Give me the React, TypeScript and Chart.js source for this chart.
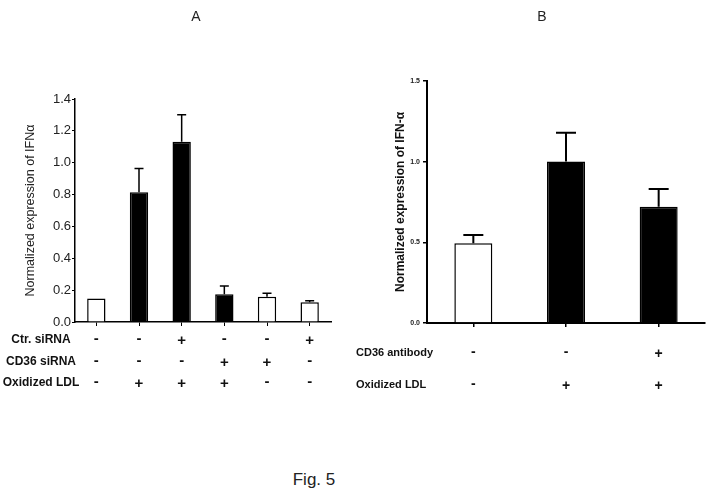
import React, { useEffect, useRef } from 'react';
import { Chart, registerables } from 'chart.js';

Chart.register(...registerables);

const FONT = '"Liberation Sans", Arial, sans-serif';

// ---- Panel A ----
const groupsA = ['1', '2', '3', '4', '5', '6'];
const valuesA = [0.147, 0.814, 1.131, 0.174, 0.159, 0.124];
const errorsA = [0, 0.149, 0.17, 0.052, 0.021, 0.01];
const fillsA = ['#ffffff', '#000000', '#000000', '#000000', '#ffffff', '#ffffff'];
const ticksA = [0, 0.2, 0.4, 0.6, 0.8, 1.0, 1.2, 1.4];
const rowLabelsA = ['Ctr. siRNA', 'CD36 siRNA', 'Oxidized LDL'];
const ctrSiRNA = ['-', '-', '+', '-', '-', '+'];
const cd36SiRNA = ['-', '-', '-', '+', '+', '-'];
const oxLdlA = ['-', '+', '+', '+', '-', '-'];

// ---- Panel B ----
const groupsB = ['1', '2', '3'];
const valuesB = [0.495, 1.001, 0.721];
const errorsB = [0.051, 0.178, 0.109];
const fillsB = ['#ffffff', '#000000', '#000000'];
const ticksB = [0, 0.5, 1.0, 1.5];
const rowLabelsB = ['CD36 antibody', 'Oxidized LDL'];
const cd36Antibody = ['-', '-', '+'];
const oxLdlB = ['-', '+', '+'];

function errorBarPlugin(id: string, values: number[], errors: number[], capW: number, lw: number) {
  return {
    id,
    afterDatasetsDraw(chart: any) {
      const { ctx, scales } = chart;
      const xs = scales.x;
      const ys = scales.y;
      ctx.save();
      ctx.strokeStyle = '#000';
      ctx.lineWidth = lw;
      values.forEach((v, i) => {
        const e = errors[i];
        if (!e) return;
        const x = xs.getPixelForValue(i);
        const y0 = ys.getPixelForValue(v);
        const y1 = ys.getPixelForValue(v + e);
        ctx.beginPath();
        ctx.moveTo(x, y0);
        ctx.lineTo(x, y1);
        ctx.moveTo(x - capW / 2, y1);
        ctx.lineTo(x + capW / 2, y1);
        ctx.stroke();
      });
      ctx.restore();
    },
  };
}

function tablePlugin(
  id: string,
  labels: string[],
  rows: string[][],
  rowY: number[],
  labelX: number,
  labelAlign: CanvasTextAlign,
  labelSize: number,
  symSize: number
) {
  return {
    id,
    afterDraw(chart: any) {
      const { ctx, scales } = chart;
      const xs = scales.x;
      ctx.save();
      ctx.fillStyle = '#111';
      ctx.textBaseline = 'middle';
      labels.forEach((lab, r) => {
        ctx.font = `bold ${labelSize}px ${FONT}`;
        ctx.textAlign = labelAlign;
        ctx.fillText(lab, labelX, rowY[r]);
        ctx.font = `900 ${symSize}px ${FONT}`;
        ctx.textAlign = 'center';
        rows[r].forEach((s, i) => {
          ctx.fillText(s, xs.getPixelForValue(i), s === '-' ? rowY[r] - 1 : rowY[r] + 1);
        });
      });
      ctx.restore();
    },
  };
}

function configA(): any {
  return {
    type: 'bar',
    data: {
      labels: groupsA,
      datasets: [
        {
          data: valuesA,
          backgroundColor: fillsA,
          borderColor: '#000',
          borderWidth: 1.5,
          barPercentage: 0.43,
          categoryPercentage: 1,
        },
      ],
    },
    options: {
      animation: false,
      responsive: false,
      devicePixelRatio: 1,
      layout: { padding: { top: 99, right: 9, bottom: 0, left: 0 } },
      plugins: { legend: { display: false }, tooltip: { enabled: false }, title: { display: false } },
      scales: {
        x: {
          grid: { display: true, drawOnChartArea: false, drawTicks: true, tickLength: 4, offset: false, color: '#000', lineWidth: 1 },
          border: { display: true, color: '#000', width: 1.5 },
          ticks: { callback: () => '', padding: 0 },
          afterFit: (s: any) => {
            s.height = 98;
          },
        },
        y: {
          min: 0,
          max: 1.4,
          afterBuildTicks: (s: any) => {
            s.ticks = ticksA.map((v) => ({ value: v }));
          },
          ticks: { callback: (v: any) => Number(v).toFixed(1), font: { family: FONT, size: 13 }, color: '#222', padding: 1 },
          grid: { drawOnChartArea: false, tickLength: 3, color: '#000', lineWidth: 1 },
          border: { display: true, color: '#000', width: 1.5 },
          title: {
            display: true,
            text: 'Normalized expression of IFNα',
            font: { family: FONT, size: 12.5 },
            color: '#222',
            padding: { top: 23, bottom: 0 },
          },
          afterFit: (s: any) => {
            s.width = 75;
          },
        },
      },
    },
    plugins: [
      errorBarPlugin('errA', valuesA, errorsA, 9, 1.5),
      tablePlugin('tabA', rowLabelsA, [ctrSiRNA, cd36SiRNA, oxLdlA], [340, 362, 383], 41, 'center', 12, 15),
    ],
  };
}

function configB(): any {
  return {
    type: 'bar',
    data: {
      labels: groupsB,
      datasets: [
        {
          data: valuesB,
          backgroundColor: fillsB,
          borderColor: '#000',
          borderWidth: 1.5,
          barPercentage: 0.41,
          categoryPercentage: 1,
        },
      ],
    },
    options: {
      animation: false,
      responsive: false,
      devicePixelRatio: 1,
      layout: { padding: { top: 81, right: 8, bottom: 0, left: 0 } },
      plugins: { legend: { display: false }, tooltip: { enabled: false }, title: { display: false } },
      scales: {
        x: {
          grid: { display: true, drawOnChartArea: false, drawTicks: true, tickLength: 4, offset: false, color: '#000', lineWidth: 1.5 },
          border: { display: true, color: '#000', width: 2 },
          ticks: { callback: () => '', padding: 0 },
          afterFit: (s: any) => {
            s.height = 97;
          },
        },
        y: {
          min: 0,
          max: 1.5,
          afterBuildTicks: (s: any) => {
            s.ticks = ticksB.map((v) => ({ value: v }));
          },
          ticks: { callback: (v: any) => Number(v).toFixed(1), font: { family: FONT, size: 7, weight: 'bold' }, color: '#222', padding: 3 },
          grid: { drawOnChartArea: false, tickLength: 4, color: '#000', lineWidth: 1.5 },
          border: { display: true, color: '#000', width: 2 },
          title: {
            display: true,
            text: 'Normalized expression of IFN-α',
            font: { family: FONT, size: 12, weight: 'bold' },
            color: '#111',
            padding: { top: 53, bottom: 0 },
          },
          afterFit: (s: any) => {
            s.width = 87;
          },
        },
      },
    },
    plugins: [
      errorBarPlugin('errB', valuesB, errorsB, 20, 2),
      tablePlugin('tabB', rowLabelsB, [cd36Antibody, oxLdlB], [353, 385], 16, 'left', 11, 14),
    ],
  };
}

export default function App() {
  const refA = useRef<HTMLCanvasElement | null>(null);
  const refB = useRef<HTMLCanvasElement | null>(null);

  useEffect(() => {
    const a = new Chart(refA.current as HTMLCanvasElement, configA());
    const b = new Chart(refB.current as HTMLCanvasElement, configB());
    return () => {
      a.destroy();
      b.destroy();
    };
  }, []);

  const textStyle: React.CSSProperties = {
    position: 'absolute',
    fontFamily: FONT,
    color: '#222',
    lineHeight: 1,
    whiteSpace: 'nowrap',
  };

  return (
    <div style={{ position: 'absolute', left: 0, top: 0, width: 713, height: 498, background: '#fff', overflow: 'hidden' }}>
      <canvas ref={refA} width={340} height={420} style={{ position: 'absolute', left: 0, top: 0, width: 340, height: 420 }} />
      <canvas ref={refB} width={373} height={420} style={{ position: 'absolute', left: 340, top: 0, width: 373, height: 420 }} />
      <div style={{ ...textStyle, left: 186, top: 9, width: 20, textAlign: 'center', fontSize: 14 }}>A</div>
      <div style={{ ...textStyle, left: 532, top: 9, width: 20, textAlign: 'center', fontSize: 14 }}>B</div>
      <div style={{ ...textStyle, left: 264, top: 471, width: 100, textAlign: 'center', fontSize: 17 }}>Fig. 5</div>
    </div>
  );
}
